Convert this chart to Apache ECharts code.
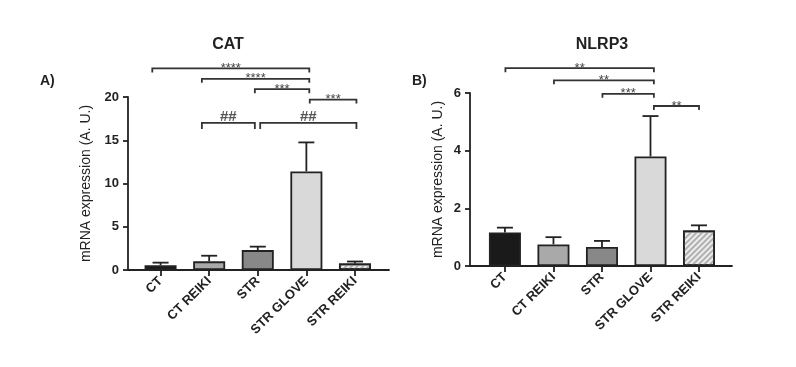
<!DOCTYPE html>
<html><head><meta charset="utf-8">
<script src="https://cdn.jsdelivr.net/npm/echarts@6/dist/echarts.min.js"></script>
<style>html,body{margin:0;padding:0;background:#fff}#c{width:796px;height:367px}</style>
</head><body><div id="c"></div>
<script>
// ---- data ----
const categories = ['CT', 'CT REIKI', 'STR', 'STR GLOVE', 'STR REIKI'];
const catMeans = [0.55, 1.0, 2.3, 11.4, 0.75];
const catErrTop = [0.85, 1.65, 2.7, 14.75, 0.98];
const nlrpMeans = [1.16, 0.75, 0.66, 3.8, 1.23];
const nlrpErrTop = [1.33, 1.0, 0.87, 5.2, 1.41];
const catTicks = [0, 5, 10, 15, 20];
const nlrpTicks = [0, 2, 4, 6];
// brackets: [start category pos, end category pos, level, label]
const catBrackets = [
  [-0.17, 3.06, 23.3, '****'],
  [0.85, 3.06, 22.1, '****'],
  [1.94, 3.06, 20.9, '***'],
  [3.07, 4.03, 19.7, '***'],
  [0.85, 1.94, 17.0, '##'],
  [2.05, 4.03, 17.0, '##']
];
const nlrpBrackets = [
  [0.01, 3.07, 6.86, '**'],
  [1.01, 3.07, 6.44, '**'],
  [2.01, 3.07, 5.97, '***'],
  [3.07, 4.0, 5.55, '**']
];

// ---- style ----
const barColors = ['#1a1a1a', '#a9a9a9', '#888888', '#d9d9d9', '#ededed'];
const ink = '#222';
const font = '"Liberation Sans", Arial, sans-serif';

const chart = echarts.init(document.getElementById('c'));

function barData(means) {
  return means.map((v, i) => {
    const item = { value: [i, v], itemStyle: { color: barColors[i], borderColor: ink, borderWidth: 1.8 } };
    if (i === 4) {
      item.itemStyle.decal = { symbol: 'rect', symbolSize: 1, dashArrayX: [1, 0], dashArrayY: [2, 2], rotation: -Math.PI / 4, color: '#b0b0b0' };
    }
    return item;
  });
}
function errData(means, tops) { return means.map((v, i) => [i, v, tops[i]]); }

function errRender(params, api) {
  const x = api.value(0);
  const b = api.coord([x, api.value(1)]);
  const t = api.coord([x, api.value(2)]);
  return {
    type: 'group', children: [
      { type: 'line', shape: { x1: b[0], y1: b[1], x2: t[0], y2: t[1] }, style: { stroke: ink, lineWidth: 1.8 } },
      { type: 'line', shape: { x1: t[0] - 8, y1: t[1], x2: t[0] + 8, y2: t[1] }, style: { stroke: ink, lineWidth: 1.8 } }
    ]
  };
}
function brRender(params, api) {
  const p1 = api.coord([api.value(0), api.value(2)]);
  const p2 = api.coord([api.value(1), api.value(2)]);
  const label = api.value(3);
  const hash = String(label).indexOf('#') >= 0;
  const tk = hash ? 6 : 4;
  return {
    type: 'group', children: [
      { type: 'polyline', shape: { points: [[p1[0], p1[1] + tk], [p1[0], p1[1]], [p2[0], p2[1]], [p2[0], p2[1] + tk]] },
        style: { stroke: '#333', lineWidth: 1.8, fill: null } },
      { type: 'text', style: { text: label, x: (p1[0] + p2[0]) / 2, y: hash ? p1[1] - 6 : p1[1],
        align: 'center', verticalAlign: 'middle', fill: hash ? '#555' : '#444',
        font: (hash ? 'bold 15px ' : '13px ') + font } }
    ]
  };
}

function xAxis(grid, min, max) {
  return {
    type: 'value', gridIndex: grid, min: min, max: max,
    axisLine: { show: true, onZero: false, lineStyle: { color: ink, width: 1.8 } },
    axisTick: { show: true, customValues: [0, 1, 2, 3, 4], length: 6, lineStyle: { color: ink, width: 1.8 } },
    axisLabel: { customValues: [0, 1, 2, 3, 4], formatter: v => categories[Math.round(v)], rotate: 45, margin: 9,
      color: ink, fontWeight: 'bold', fontSize: 13, fontFamily: font },
    splitLine: { show: false }
  };
}
function yAxis(grid, max, interval, gap) {
  return {
    type: 'value', gridIndex: grid, min: 0, max: max, interval: interval,
    name: 'mRNA expression (A. U.)', nameLocation: 'middle', nameGap: gap,
    nameTextStyle: { color: ink, fontSize: 14, fontFamily: font },
    axisLine: { show: true, onZero: false, lineStyle: { color: ink, width: 1.8 } },
    axisTick: { show: true, length: 5, lineStyle: { color: ink, width: 1.8 } },
    axisLabel: { color: ink, fontWeight: 'bold', fontSize: 13, fontFamily: font, margin: 9 },
    splitLine: { show: false }
  };
}

chart.setOption({
  animation: false,
  title: [
    { text: 'CAT', left: 228, top: 37, padding: 0, textAlign: 'center', textStyle: { fontSize: 16, fontWeight: 'bold', color: ink, fontFamily: font } },
    { text: 'NLRP3', left: 602, top: 37, padding: 0, textAlign: 'center', textStyle: { fontSize: 16, fontWeight: 'bold', color: ink, fontFamily: font } },
    { text: 'A)', left: 40, top: 74, padding: 0, textStyle: { fontSize: 14, fontWeight: 'bold', color: ink, fontFamily: font } },
    { text: 'B)', left: 412, top: 74, padding: 0, textStyle: { fontSize: 14, fontWeight: 'bold', color: ink, fontFamily: font } }
  ],
  grid: [
    { left: 128, right: 407, top: 97, bottom: 97 },
    { left: 470, right: 64, top: 93, bottom: 101 }
  ],
  xAxis: [xAxis(0, -0.67, 4.7), xAxis(1, -0.72, 4.68)],
  yAxis: [yAxis(0, 20, 5, 35), yAxis(1, 6, 2, 25)],
  series: [
    { type: 'bar', xAxisIndex: 0, yAxisIndex: 0, barWidth: 32, data: barData(catMeans), z: 2 },
    { type: 'custom', xAxisIndex: 0, yAxisIndex: 0, renderItem: errRender, data: errData(catMeans, catErrTop), z: 1 },
    { type: 'custom', xAxisIndex: 0, yAxisIndex: 0, renderItem: brRender, data: catBrackets, clip: false, z: 3 },
    { type: 'bar', xAxisIndex: 1, yAxisIndex: 1, barWidth: 32, data: barData(nlrpMeans), z: 2 },
    { type: 'custom', xAxisIndex: 1, yAxisIndex: 1, renderItem: errRender, data: errData(nlrpMeans, nlrpErrTop), z: 1 },
    { type: 'custom', xAxisIndex: 1, yAxisIndex: 1, renderItem: brRender, data: nlrpBrackets, clip: false, z: 3 }
  ]
});
</script></body></html>
